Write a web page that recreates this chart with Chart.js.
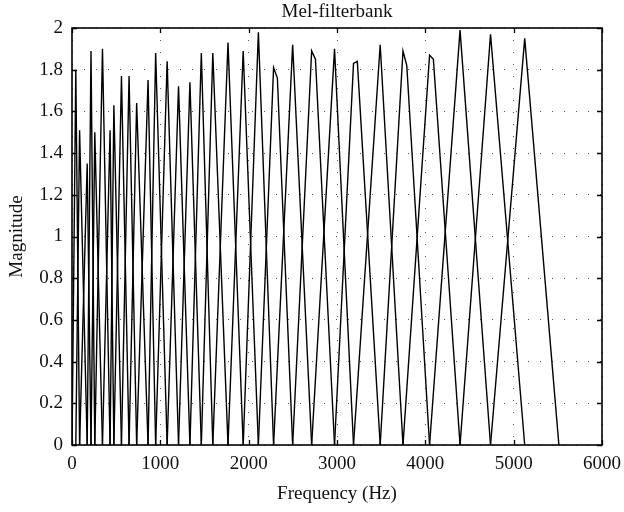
<!DOCTYPE html>
<html lang="en">

<head>
    <script src="https://cdn.jsdelivr.net/npm/chart.js"></script>
    <meta charset="UTF-8">
    <title>Mel-filterbank</title>
    <style>
        body {
            margin: 0;
            background: #fff;
        }

        #wrap {
            width: 624px;
            height: 512px;
        }
    </style>
</head>

<body>
    <div id="wrap"><canvas id="melChart"></canvas></div>

    <script>
        // peak of each triangular filter (Hz) and its height
        const peakHz = [43, 86, 172, 215, 258, 345, 431, 474, 560, 646, 732, 861, 947, 1077, 1206, 1335,
            1464, 1594, 1766, 1938, 2110, 2282, 2498, 2713, 2972, 3187, 3489, 3747, 4048, 4393, 4738, 5125];
        const peakMag = [1.80, 1.51, 1.35, 1.89, 1.50, 1.90, 1.51, 1.63, 1.77, 1.77, 1.64, 1.75, 1.88, 1.84, 1.72, 1.74,
            1.88, 1.88, 1.93, 1.89, 1.98, 1.81, 1.92, 1.89, 1.90, 1.83, 1.92, 1.89, 1.87, 1.99, 1.97, 1.95];
        // second top point for the flat-topped filters (null = plain triangle)
        const shoulderHz = [null, null, null, null, null, null, null, null, null, null, null, null, null, null, null, null,
            null, null, null, null, null, 2325, null, 2756, null, 3230, null, 3790, 4091, null, null, null];
        const shoulderMag = [null, null, null, null, null, null, null, null, null, null, null, null, null, null, null, null,
            null, null, null, null, null, 1.76, null, 1.85, null, 1.84, null, 1.82, 1.85, null, null, null];
        const startHz = 0;
        const endHz = 5512;
        const xTicks = [0, 1000, 2000, 3000, 4000, 5000, 6000];
        const yTicks = [0, 0.2, 0.4, 0.6, 0.8, 1, 1.2, 1.4, 1.6, 1.8, 2];

        const serif = "'Liberation Serif', 'DejaVu Serif', serif";
        const fontSize = 19;

        const datasets = peakHz.map((f, i) => {
            const left = i === 0 ? startHz : peakHz[i - 1];
            const right = i === peakHz.length - 1 ? endHz : peakHz[i + 1];
            const pts = [{ x: left, y: 0 }, { x: f, y: peakMag[i] }];
            if (shoulderHz[i] !== null) pts.push({ x: shoulderHz[i], y: shoulderMag[i] });
            pts.push({ x: right, y: 0 });
            return {
                label: 'filter ' + (i + 1),
                data: pts,
                showLine: true,
                borderColor: '#000',
                borderWidth: 1.4,
                pointRadius: 0,
                tension: 0
            };
        });

        // box round the plot and inward ticks, matlab style
        const boxPlugin = {
            id: 'box',
            afterDraw(chart) {
                const ctx = chart.ctx;
                const a = chart.chartArea;
                const xs = chart.scales.x, ys = chart.scales.y;
                ctx.save();
                ctx.strokeStyle = '#000';
                ctx.lineWidth = 1.3;
                ctx.beginPath();
                xTicks.forEach(t => {
                    const px = Math.round(xs.getPixelForValue(t)) + 0.5;
                    ctx.moveTo(px, a.bottom); ctx.lineTo(px, a.bottom - 5);
                    ctx.moveTo(px, a.top); ctx.lineTo(px, a.top + 5);
                });
                yTicks.forEach(t => {
                    const py = Math.round(ys.getPixelForValue(t)) + 0.5;
                    ctx.moveTo(a.left, py); ctx.lineTo(a.left + 5, py);
                    ctx.moveTo(a.right, py); ctx.lineTo(a.right - 5, py);
                });
                ctx.stroke();
                ctx.lineWidth = 1.6;
                ctx.strokeRect(a.left, a.top, a.right - a.left, a.bottom - a.top);
                ctx.restore();
            }
        };

        const noSidePad = s => { s.paddingLeft = 0; s.paddingRight = 0; };

        new Chart(document.getElementById('melChart'), {
            type: 'scatter',
            data: { datasets: datasets },
            options: {
                responsive: true,
                maintainAspectRatio: false,
                animation: false,
                layout: { padding: { left: 0, right: 22, top: 0, bottom: 0 } },
                plugins: {
                    legend: { display: false },
                    tooltip: { enabled: false }
                },
                scales: {
                    x: {
                        type: 'linear',
                        min: 0,
                        max: 6000,
                        afterBuildTicks: s => { s.ticks = xTicks.map(v => ({ value: v })); },
                        afterFit: s => { s.height = 67; noSidePad(s); },
                        grid: { color: '#555', lineWidth: 1, drawTicks: false },
                        border: { display: false, dash: [1, 11] },
                        ticks: {
                            color: '#111',
                            padding: 8,
                            maxRotation: 0,
                            font: { family: serif, size: fontSize },
                            callback: v => String(v)
                        },
                        title: {
                            display: true,
                            text: 'Frequency (Hz)',
                            color: '#111',
                            font: { family: serif, size: fontSize },
                            padding: { top: 0, bottom: 7 }
                        }
                    },
                    // top axis only carries the title, so it centres over the plot
                    top: {
                        type: 'linear',
                        axis: 'x',
                        position: 'top',
                        min: 0,
                        max: 6000,
                        afterFit: s => { s.height = 28; noSidePad(s); },
                        grid: { display: false },
                        border: { display: false },
                        ticks: { display: false },
                        title: {
                            display: true,
                            text: 'Mel-filterbank',
                            color: '#111',
                            font: { family: serif, size: fontSize },
                            padding: { top: 1, bottom: 0 }
                        }
                    },
                    y: {
                        type: 'linear',
                        min: 0,
                        max: 2,
                        afterBuildTicks: s => { s.ticks = yTicks.map(v => ({ value: v })); },
                        afterFit: s => { s.width = 72; },
                        grid: { color: '#555', lineWidth: 1, drawTicks: false },
                        border: { display: false, dash: [1, 11] },
                        ticks: {
                            color: '#111',
                            padding: 9,
                            font: { family: serif, size: fontSize },
                            callback: v => String(+v.toFixed(1))
                        },
                        title: {
                            display: true,
                            text: 'Magnitude',
                            color: '#111',
                            font: { family: serif, size: fontSize },
                            padding: { top: 6, bottom: 0 }
                        }
                    }
                }
            },
            plugins: [boxPlugin]
        });
    </script>
</body>

</html>
